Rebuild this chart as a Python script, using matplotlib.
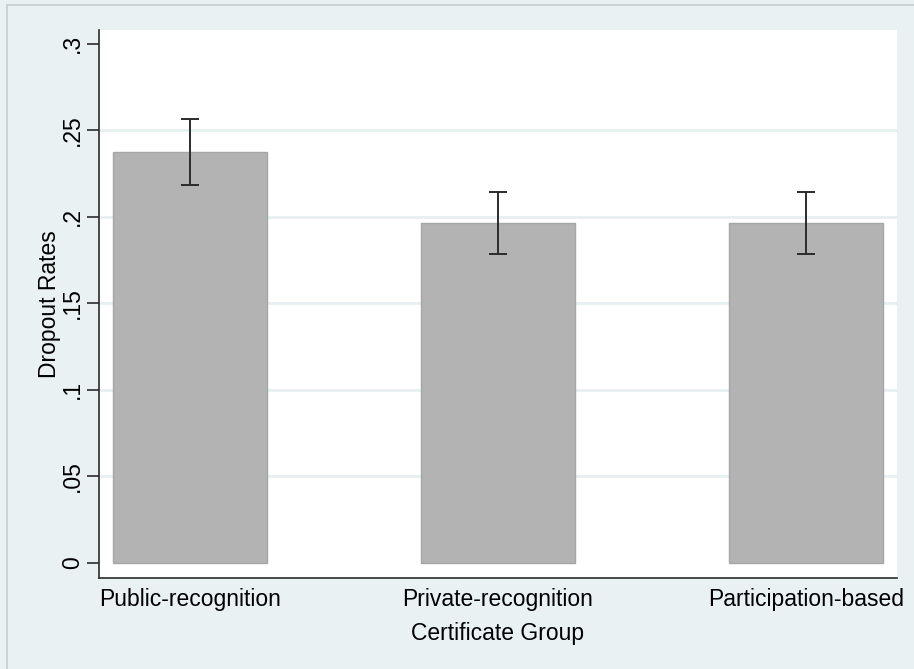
import numpy as np
import matplotlib.pyplot as plt
from matplotlib.patches import Rectangle

plt.rcParams['font.family'] = ['Liberation Sans', 'DejaVu Sans']

groups = ['Public-recognition', 'Private-recognition', 'Participation-based']
rates = [0.2375, 0.1965, 0.1965]
ci_low = [0.2185, 0.1785, 0.1785]
ci_high = [0.2565, 0.2145, 0.2145]
yticks = [0, 0.05, 0.1, 0.15, 0.2, 0.25, 0.3]
ytick_labels = ['0', '.05', '.1', '.15', '.2', '.25', '.3']

bg = '#eaf1f3'

fig = plt.figure(figsize=(9.14, 6.69), dpi=100, facecolor=bg)
# thin frame around the graph region (top and left visible)
fig.patches.append(Rectangle((7 / 914, -0.05), 1.2, 1 - 5 / 669 + 0.05,
                             transform=fig.transFigure, fill=False,
                             edgecolor='#c8cccd', linewidth=1.2))

ax = fig.add_axes([99 / 914, 1 - 578 / 669, 798 / 914, 548 / 669])
ax.set_facecolor('white')

x = np.arange(len(groups))
rates = np.array(rates)
yerr = [rates - np.array(ci_low), np.array(ci_high) - rates]

ax.bar(x, rates, width=0.5, color='#b3b3b3', edgecolor='#a6a6a6',
       linewidth=1.0, zorder=2)
ax.errorbar(x, rates, yerr=yerr, fmt='none', ecolor='#2b2b2b',
            elinewidth=1.4, capsize=6.2, capthick=1.4, zorder=3)

ax.set_xlim(-0.295, 2.295)
ax.set_ylim(-0.0087, 0.308)

ax.set_yticks(yticks)
ax.set_yticklabels(ytick_labels, rotation=90, va='center', fontsize=16.5)
ax.tick_params(axis='y', length=9, width=1.2, color='#2b2b2b', pad=2)
ax.set_xticks(x)
ax.set_xticklabels(groups, fontsize=16.5)
ax.tick_params(axis='x', length=0, pad=7)

ax.yaxis.grid(True, color='#e6eff1', linewidth=2.0, zorder=0)
ax.set_axisbelow(True)
glines = ax.get_ygridlines()
glines[0].set_visible(False)
glines[-1].set_visible(False)

for side in ['top', 'right']:
    ax.spines[side].set_visible(False)
for side in ['left', 'bottom']:
    ax.spines[side].set_color('#2b2b2b')
    ax.spines[side].set_linewidth(1.2)

ax.set_ylabel('Dropout Rates', fontsize=16.5, labelpad=0)
ax.set_xlabel('Certificate Group', fontsize=16.5, labelpad=8)

fig.savefig('out.png', dpi=100, facecolor=bg)
